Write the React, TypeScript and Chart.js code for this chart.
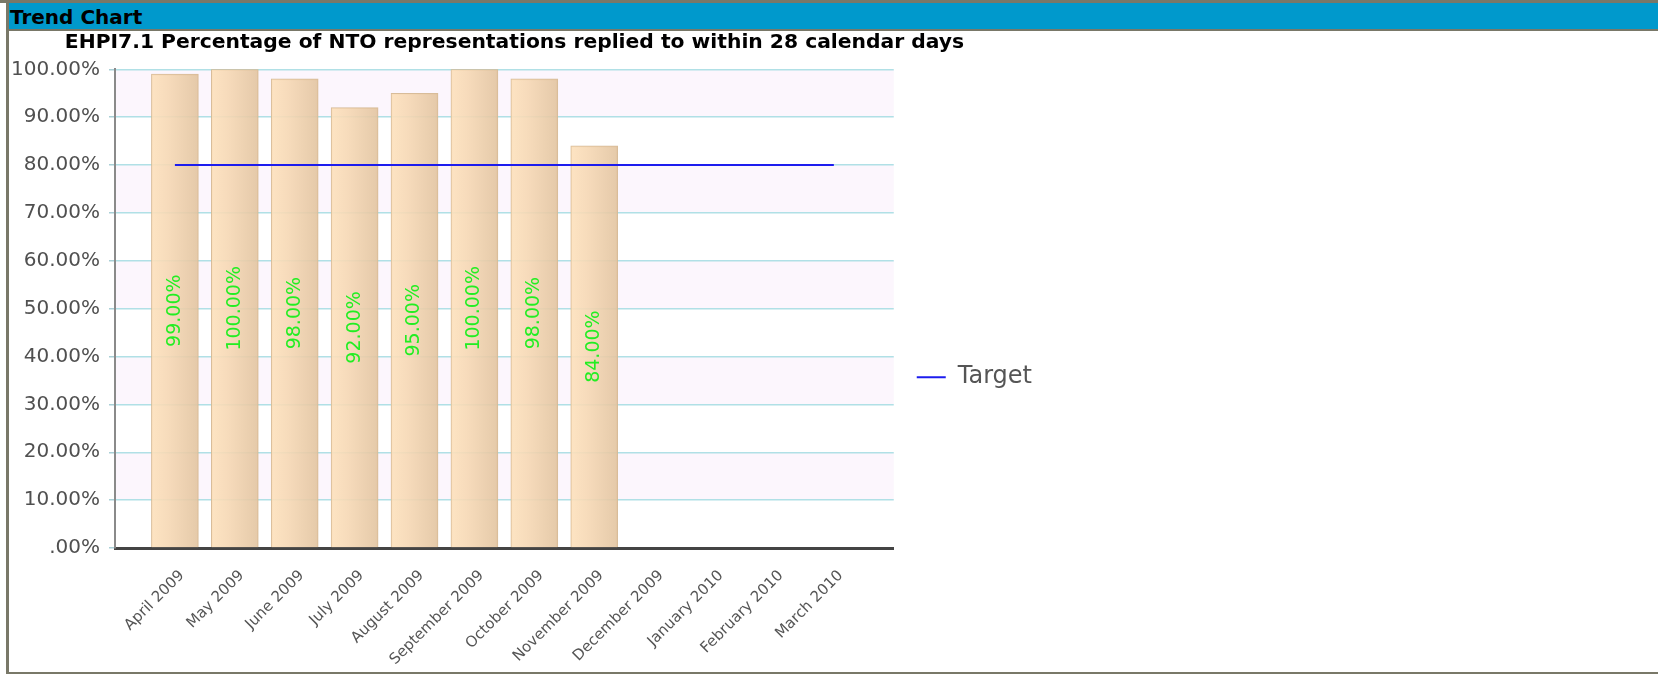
import React, { useEffect, useRef } from 'react';
import { Chart, registerables } from 'chart.js';

Chart.register(...registerables);

const headerTitle = 'Trend Chart';
const chartTitle = 'EHPI7.1 Percentage of NTO representations replied to within 28 calendar days';
const targetLabel = 'Target';

const months = [
  'April 2009', 'May 2009', 'June 2009', 'July 2009', 'August 2009', 'September 2009',
  'October 2009', 'November 2009', 'December 2009', 'January 2010', 'February 2010', 'March 2010',
];
const percentValues: (number | null)[] = [99, 100, 98, 92, 95, 100, 98, 84, null, null, null, null];
const targetValues: number[] = [80, 80, 80, 80, 80, 80, 80, 80, 80, 80, 80, 80];
const yTickLabels = ['.00%', '10.00%', '20.00%', '30.00%', '40.00%', '50.00%', '60.00%', '70.00%', '80.00%', '90.00%', '100.00%'];

const FONT = "'DejaVu Sans', sans-serif";

const bandPlugin = {
  id: 'plotBands',
  beforeDraw(chart: any) {
    const { ctx, chartArea, scales } = chart;
    const y = scales.y;
    ctx.save();
    ctx.fillStyle = '#fcf6fd';
    for (let i = 0; i < yTickLabels.length - 1; i++) {
      if (i % 2 === 1) {
        const top = y.getPixelForValue((i + 1) * 10);
        const bottom = y.getPixelForValue(i * 10);
        ctx.fillRect(chartArea.left, top, chartArea.right - chartArea.left, bottom - top);
      }
    }
    ctx.restore();
  },
};

const valueLabelPlugin = {
  id: 'valueLabels',
  afterDatasetsDraw(chart: any) {
    const { ctx } = chart;
    const meta = chart.getDatasetMeta(0);
    const data = chart.data.datasets[0].data;
    ctx.save();
    ctx.fillStyle = '#22ee22';
    ctx.font = `19px ${FONT}`;
    ctx.textAlign = 'center';
    ctx.textBaseline = 'middle';
    meta.data.forEach((el: any, i: number) => {
      const v = data[i];
      if (v === null || v === undefined) return;
      const cx = el.x;
      const cy = (el.y + el.base) / 2;
      ctx.save();
      ctx.translate(cx, cy);
      ctx.rotate(-Math.PI / 2);
      ctx.fillText(`${Number(v).toFixed(2)}%`, 0, 0);
      ctx.restore();
    });
    ctx.restore();
  },
};

export default function App() {
  const canvasRef = useRef<HTMLCanvasElement | null>(null);

  useEffect(() => {
    if (!canvasRef.current) return;
    const axisLabels = ['', ...months, ''];
    const barData = [null, ...percentValues, null];
    const lineData = [null, ...targetValues, null];

    const chart = new Chart(canvasRef.current, {
      type: 'bar',
      data: {
        labels: axisLabels,
        datasets: [
          {
            type: 'bar',
            label: 'Percentage',
            data: barData,
            order: 1,
            barThickness: 47,
            borderWidth: 1,
            borderColor: 'rgba(214,184,148,0.95)',
            backgroundColor: (c: any) => {
              const ch = c.chart;
              if (!ch.chartArea || c.dataIndex === undefined) return 'rgba(242,214,180,0.9)';
              const x = ch.scales.x.getPixelForValue(c.dataIndex);
              const g = ch.ctx.createLinearGradient(x - 23.5, 0, x + 23.5, 0);
              g.addColorStop(0, 'rgba(253,225,188,0.9)');
              g.addColorStop(0.35, 'rgba(246,216,180,0.9)');
              g.addColorStop(1, 'rgba(226,196,160,0.9)');
              return g;
            },
          } as any,
          {
            type: 'line',
            label: targetLabel,
            data: lineData,
            order: 0,
            borderColor: '#1c1cee',
            borderWidth: 2,
            pointRadius: 0,
            pointBorderWidth: 2,
            pointHoverRadius: 0,
            fill: false,
            spanGaps: false,
          } as any,
        ],
      },
      options: {
        responsive: false,
        animation: false,
        layout: { padding: 0 },
        plugins: {
          tooltip: { enabled: false },
          title: {
            display: true,
            text: chartTitle,
            color: '#000',
            font: { family: FONT, size: 20.3, weight: 'bold', lineHeight: 1.2 },
            padding: { top: 0, bottom: 14 },
          },
          legend: {
            display: true,
            position: 'right',
            align: 'center',
            title: { display: true, text: '', padding: { top: 37, bottom: 0 }, font: { size: 12, lineHeight: 1.2 } },
            labels: {
              usePointStyle: true,
              pointStyle: 'line',
              pointStyleWidth: 29,
              padding: 23,
              color: '#555',
              font: { family: FONT, size: 24 },
              filter: (item: any) => item.datasetIndex === 1,
            },
          },
        },
        scales: {
          x: {
            type: 'category',
            offset: false,
            grid: { display: false, drawTicks: false },
            border: { display: true, color: '#444', width: 3 },
            ticks: {
              autoSkip: false,
              minRotation: 45,
              maxRotation: 45,
              padding: 19,
              labelOffset: 7,
              color: '#555',
              font: { family: FONT, size: 15 },
            },
            afterFit: (axis: any) => { axis.height = 124; },
          },
          y: {
            min: 0,
            max: 100,
            ticks: {
              stepSize: 10,
              padding: 9,
              color: '#505050',
              font: { family: FONT, size: 20 },
              callback: (v: any) => yTickLabels[Math.round(Number(v) / 10)],
            },
            grid: { color: '#b0e0e6', lineWidth: 1.5, tickLength: 6, tickColor: '#a9cfd6' },
            border: { display: true, color: '#8a8a8a', width: 2 },
            afterFit: (axis: any) => { axis.width = 128; },
          },
        },
      } as any,
      plugins: [bandPlugin, valueLabelPlugin],
    });
    return () => chart.destroy();
  }, []);

  const gray = '#797868';
  return (
    <div style={{ position: 'fixed', left: 0, top: 0, width: 1658, height: 674, background: '#fff', overflow: 'hidden' }}>
      <canvas
        ref={canvasRef}
        width={1055}
        height={641}
        style={{ position: 'absolute', left: -13, top: 31, width: 1055, height: 641 }}
      />
      <div style={{ position: 'absolute', left: 0, top: 0, width: 1658, height: 3, background: gray }} />
      <div style={{ position: 'absolute', left: 6, top: 0, width: 3, height: 674, background: gray }} />
      <div
        style={{
          position: 'absolute', left: 9, top: 3, width: 1649, height: 26, background: '#0099cc',
          color: '#000', fontFamily: FONT, fontWeight: 'bold', fontSize: 20, lineHeight: '29px',
          paddingLeft: 1, boxSizing: 'border-box', whiteSpace: 'nowrap', overflow: 'hidden',
        }}
      >
        {headerTitle}
      </div>
      <div style={{ position: 'absolute', left: 9, top: 29, width: 1649, height: 2, background: gray }} />
      <div style={{ position: 'absolute', left: 6, top: 672, width: 1652, height: 2, background: gray }} />
    </div>
  );
}
